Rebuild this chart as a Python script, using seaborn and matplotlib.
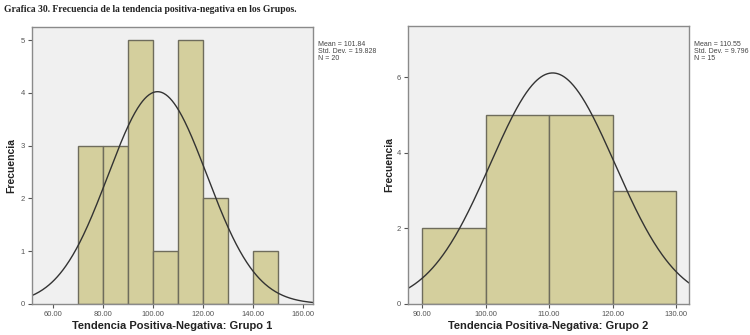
import numpy as np
import pandas as pd
import matplotlib
matplotlib.use("Agg")
import matplotlib.pyplot as plt
import seaborn as sns

# Grupo 1: histogram bins (width 10) and frequencies
g1_edges = [70, 80, 90, 100, 110, 120, 130, 140, 150]
g1_counts = [3, 3, 5, 1, 5, 2, 0, 1]
g1_mean, g1_sd, g1_n = 101.84, 19.828, 20
g1_ticks = [60, 80, 100, 120, 140, 160]
g1_yticks = [0, 1, 2, 3, 4, 5]

# Grupo 2
g2_edges = [90, 100, 110, 120, 130]
g2_counts = [2, 5, 5, 3]
g2_mean, g2_sd, g2_n = 110.55, 9.796, 15
g2_ticks = [90, 100, 110, 120, 130]
g2_yticks = [0, 2, 4, 6]

title = "Grafica 30. Frecuencia de la tendencia positiva-negativa en los Grupos."

sns.set_theme(style="white")
plt.rcParams["font.family"] = ["Liberation Sans", "DejaVu Sans"]

BAR = "#D4CF9D"
EDGE = "#6E6C5C"
BG = "#F0F0F0"
SPINE = "#8A8A8A"

fig = plt.figure(figsize=(7.5, 3.35), dpi=100)
fig.patch.set_facecolor("white")

panels = [
    dict(rect=[32 / 750, 1 - 304 / 335, 281 / 750, 277 / 335],
         edges=g1_edges, counts=g1_counts, mean=g1_mean, sd=g1_sd, n=g1_n,
         ticks=g1_ticks, yticks=g1_yticks, xlim=(51.5, 164.2), ylim=(0, 5.25),
         xlabel="Tendencia Positiva-Negativa: Grupo 1", stats_x=318 / 750, ypad=3.5),
    dict(rect=[408 / 750, 1 - 304 / 335, 281 / 750, 278 / 335],
         edges=g2_edges, counts=g2_counts, mean=g2_mean, sd=g2_sd, n=g2_n,
         ticks=g2_ticks, yticks=g2_yticks, xlim=(87.8, 132.0), ylim=(0, 7.35),
         xlabel="Tendencia Positiva-Negativa: Grupo 2", stats_x=694 / 750, ypad=1.5),
]

for p in panels:
    ax = fig.add_axes(p["rect"])
    ax.set_facecolor(BG)
    edges = [float(e) for e in p["edges"]]
    centers = [(a + b) / 2 for a, b in zip(edges[:-1], edges[1:])]
    df = pd.DataFrame({"x": centers, "w": p["counts"]})
    sns.histplot(data=df, x="x", weights="w", bins=edges, ax=ax,
                 color=BAR, edgecolor=EDGE, linewidth=1.0, alpha=1.0)

    # Normal curve scaled to counts
    width = edges[1] - edges[0]
    xs = np.linspace(p["xlim"][0], p["xlim"][1], 400)
    ys = p["n"] * width / (p["sd"] * np.sqrt(2 * np.pi)) * np.exp(-0.5 * ((xs - p["mean"]) / p["sd"]) ** 2)
    sns.lineplot(x=xs, y=ys, ax=ax, color="#333333", linewidth=1.0)

    ax.set_xlim(*p["xlim"])
    ax.set_ylim(*p["ylim"])
    ax.set_xticks(p["ticks"])
    ax.set_xticklabels([f"{t:.2f}" for t in p["ticks"]])
    ax.set_yticks(p["yticks"])
    ax.tick_params(axis="both", labelsize=5.5, colors="#555555", length=3,
                   width=0.8, direction="out", pad=2, bottom=True, left=True)
    for s in ax.spines.values():
        s.set_color(SPINE)
        s.set_linewidth(1.0)
    ax.set_xlabel(p["xlabel"], fontsize=8, fontweight="bold", color="#222222", labelpad=2.5)
    ax.set_ylabel("Frecuencia", fontsize=7.5, fontweight="bold", color="#222222", labelpad=p["ypad"])
    ax.grid(False)

    fig.text(p["stats_x"], 1 - 41 / 335,
             f"Mean = {p['mean']}\nStd. Dev. = {p['sd']}\nN = {p['n']}",
             fontsize=5, color="#444444", va="top", ha="left", linespacing=1.0)

fig.text(4 / 750, 1 - 10 / 335, title, fontsize=6.9, fontweight="bold",
         family=["Liberation Serif", "DejaVu Serif"], va="center", ha="left", color="#222222")

fig.savefig("out.png", dpi=100, facecolor="white")
